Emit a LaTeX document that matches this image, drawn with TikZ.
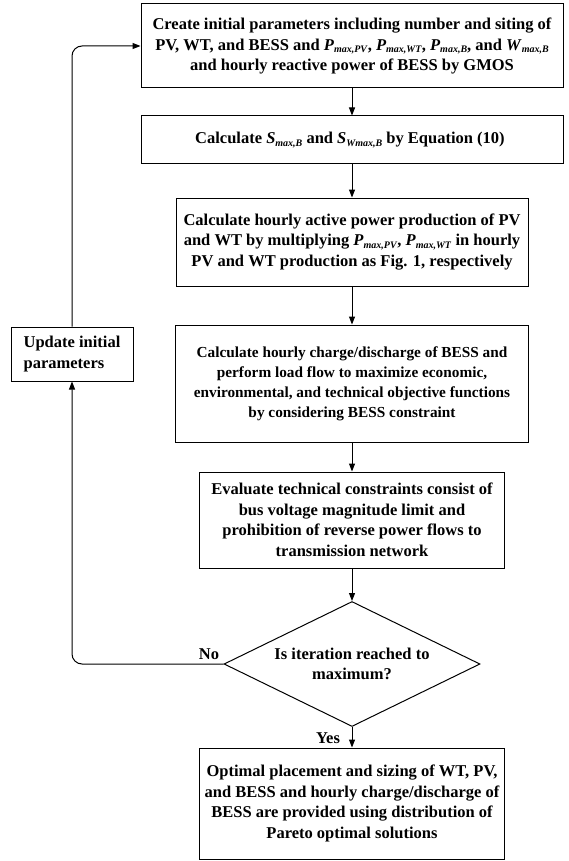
\documentclass[tikz,border=0pt]{standalone}
\usepackage{fontspec}
\setmainfont{Liberation Serif}
\usetikzlibrary{arrows.meta}
\usetikzlibrary{shapes.geometric,positioning}

\newcommand{\qty}[2]{\textit{#1}\raisebox{-0.3ex}{\fontsize{10}{10}\selectfont\textit{#2}}}

\begin{document}
\begin{tikzpicture}[x=1pt, y=-1pt,
    every node/.style={font=\fontsize{16.5}{20.5}\selectfont\bfseries},
    block/.style={rectangle, draw=black, line width=1pt, align=center, inner sep=2pt},
    decision/.style={diamond, draw=black, line width=1pt, align=center, inner sep=0pt, aspect=2.05},
    flow/.style={line width=1pt, -{Triangle[length=8pt, width=6pt]}}]
    \useasboundingbox (0,0) rectangle (569,861);

    \node (init) [block, minimum width=422pt, minimum height=84pt] at (352,46) {
        Create initial parameters including number and siting of\\
        PV, WT, and BESS and \qty{P}{max,PV}, \qty{P}{max,WT}, \qty{P}{max,B}, and \qty{W}{max,B}\\
        and hourly reactive power of BESS by GMOS
    };

    \node (calc) [block, minimum width=422pt, minimum height=48pt] at (352,140) {
        Calculate \qty{S}{max,B} and \qty{S}{Wmax,B} by Equation (10)
    };

    \node (prod) [block, minimum width=352pt, minimum height=88pt] at (352,242) {
        Calculate hourly active power production of PV\\
        and WT by multiplying \qty{P}{max,PV}, \qty{P}{max,WT} in hourly\\
        PV and WT production as Fig. 1, respectively
    };

    \node (load) [block, minimum width=353pt, minimum height=117pt,
        font=\fontsize{15.3}{20}\selectfont\bfseries] at (352,383.5) {
        Calculate hourly charge/discharge of BESS and\\
        perform load flow to maximize economic,\\
        environmental, and technical objective functions\\
        by considering BESS constraint
    };

    \node (eval) [block, minimum width=305pt, minimum height=96pt] at (352,520) {
        Evaluate technical constraints consist of\\
        bus voltage magnitude limit and\\
        prohibition of reverse power flows to\\
        transmission network
    };

    \node (iter) [decision, minimum width=256pt, minimum height=125pt] at (352,664) {
        Is iteration reached to\\ maximum?
    };

    \node (result) [block, minimum width=305pt, minimum height=111pt] at (352,803.5) {
        Optimal placement and sizing of WT, PV,\\
        and BESS and hourly charge/discharge of\\
        BESS are provided using distribution of\\
        Pareto optimal solutions
    };

    \node (update) [block, align=left, minimum width=122pt, minimum height=54pt] at (72,354) {
        Update initial\\ parameters
    };

    \node (no) at (209,654) {No};
    \node (yes) at (328,738) {Yes};

    \draw [flow] (init) -- (calc);
    \draw [flow] (calc) -- (prod);
    \draw [flow] (prod) -- (load);
    \draw [flow] (load) -- (eval);
    \draw [flow] (eval) -- (iter);
    \draw [flow] (iter) -- (result);
    \draw [flow, rounded corners=10pt] (iter.west) -| (update.south);
    \draw [flow, rounded corners=10pt] (update.north) |- (init.west);
\end{tikzpicture}
\end{document}
